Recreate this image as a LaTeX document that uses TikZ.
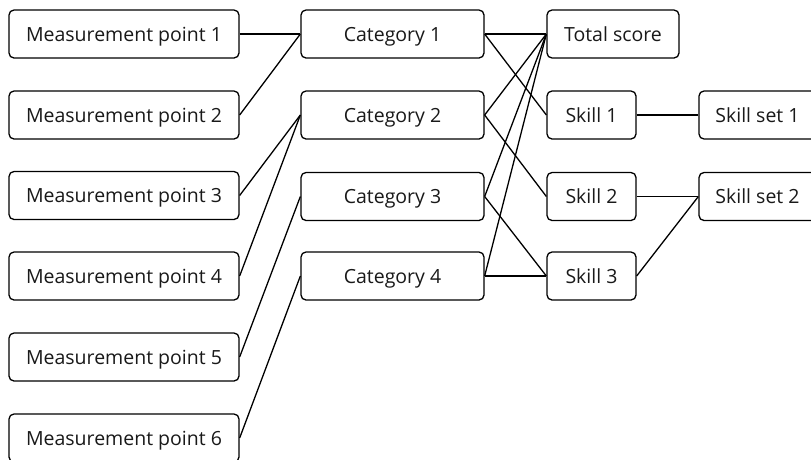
\documentclass[tikz,border=0pt]{standalone}
\usepackage{fontspec}
\setmainfont{Open Sans}
\begin{document}
\begin{tikzpicture}[x=1pt,y=-1pt,
  box/.style={draw=black, line width=1.3pt, rounded corners=5pt, fill=white,
    minimum height=48pt, inner sep=0pt, text height=14pt, text depth=0pt,
    font=\fontsize{19.5}{22}\selectfont, text=black!90},
  mp/.style={box, minimum width=230pt},
  cat/.style={box, minimum width=183pt},
  link/.style={draw=black, line width=1.3pt}]
\useasboundingbox (0,0) rectangle (811,459);
\clip (0,0) rectangle (811,459);
% measurement points
\node[mp] (m1) at (124,34) {Measurement point 1};
\node[mp] (m2) at (124,115) {Measurement point 2};
\node[mp] (m3) at (124,195.5) {Measurement point 3};
\node[mp] (m4) at (124,276) {Measurement point 4};
\node[mp] (m5) at (124,357) {Measurement point 5};
\node[mp] (m6) at (124,438) {Measurement point 6};
% categories
\node[cat] (c1) at (392.5,34) {Category 1};
\node[cat] (c2) at (392.5,115) {Category 2};
\node[cat] (c3) at (392.5,196.5) {Category 3};
\node[cat] (c4) at (392.5,276) {Category 4};
% scores and skills
\node[box, minimum width=132pt] (ts) at (613,34) {Total score};
\node[box, minimum width=89pt] (s1) at (591.5,115) {Skill 1};
\node[box, minimum width=89pt] (s2) at (591.5,196.5) {Skill 2};
\node[box, minimum width=89pt] (s3) at (591.5,276) {Skill 3};
\node[box, minimum width=117pt] (ss1) at (757.5,115) {Skill set 1};
\node[box, minimum width=117pt] (ss2) at (757.5,196.5) {Skill set 2};
% connectors
\draw[link] (m1.east) -- (c1.west);
\draw[link] (m2.east) -- (c1.west);
\draw[link] (m3.east) -- (c2.west);
\draw[link] (m4.east) -- (c2.west);
\draw[link] (m5.east) -- (c3.west);
\draw[link] (m6.east) -- (c4.west);
\draw[link] (c1.east) -- (ts.west);
\draw[link] (c1.east) -- (s1.west);
\draw[link] (c2.east) -- (ts.west);
\draw[link] (c2.east) -- (s2.west);
\draw[link] (c3.east) -- (ts.west);
\draw[link] (c3.east) -- (s3.west);
\draw[link] (c4.east) -- (ts.west);
\draw[link] (c4.east) -- (s3.west);
\draw[link] (s1.east) -- (ss1.west);
\draw[link] (s2.east) -- (ss2.west);
\draw[link] (s3.east) -- (ss2.west);
\end{tikzpicture}
\end{document}
